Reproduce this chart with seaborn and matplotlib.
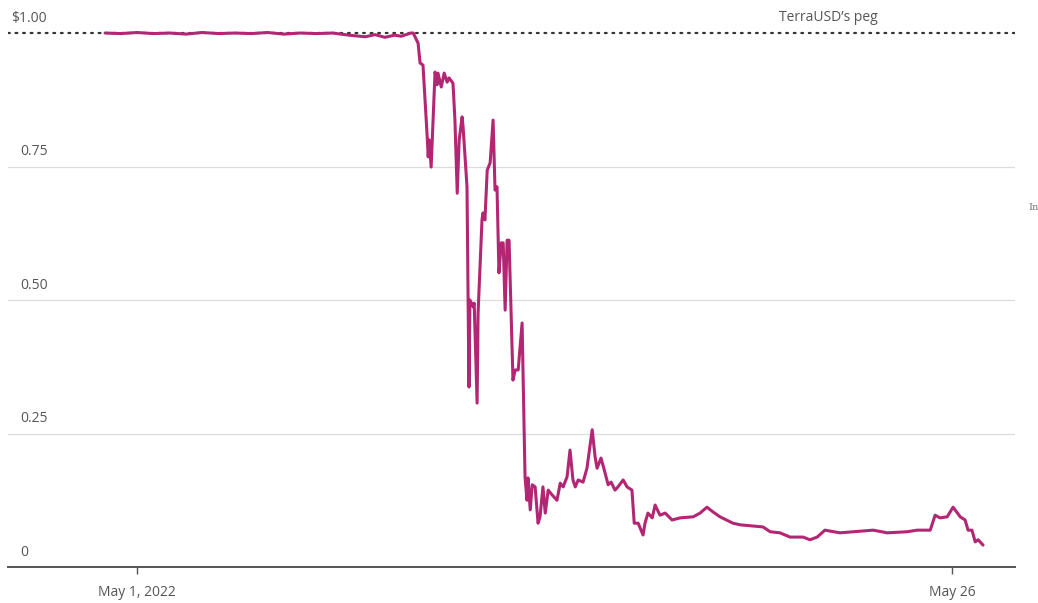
import numpy as np
import pandas as pd
import matplotlib
matplotlib.use("Agg")
import matplotlib.pyplot as plt
import matplotlib.transforms as mtransforms
import seaborn as sns

# ---- data ----
# days since 2022-05-01 00:00
day_offsets = [
    -0.98, -0.5, 0.0, 0.5, 1.0, 1.5, 2.0, 2.5, 3.0, 3.5, 4.0, 4.5, 5.0, 5.5, 6.0, 6.5,
    7.0, 7.3, 7.6, 7.9, 8.1, 8.3, 8.4,
    8.47, 8.62, 8.68, 8.77, 8.90, 8.93, 8.96, 9.02, 9.08, 9.14, 9.20, 9.23, 9.33, 9.42,
    9.51, 9.57, 9.69, 9.75, 9.82, 9.88, 9.97, 10.00, 10.12, 10.18, 10.21, 10.31, 10.34,
    10.43, 10.46, 10.58, 10.61, 10.67, 10.74, 10.83, 10.92, 10.98, 11.04, 11.10, 11.17,
    11.23, 11.29, 11.35, 11.41, 11.53, 11.60, 11.69, 11.81, 11.90, 11.96, 11.99, 12.06,
    12.12, 12.21, 12.30, 12.36, 12.45, 12.52, 12.61, 12.73, 12.88, 12.98, 13.07, 13.19,
    13.28, 13.37, 13.44, 13.53, 13.68, 13.80, 13.96, 14.05, 14.11, 14.23, 14.33, 14.45,
    14.54, 14.66, 14.75, 14.91, 15.03, 15.18, 15.25, 15.37, 15.52, 15.58, 15.67, 15.80,
    15.89, 16.04, 16.20, 16.41, 16.66, 17.06, 17.27, 17.48, 17.67, 17.88, 18.28, 18.50,
    19.20, 19.42, 19.72, 20.03, 20.43, 20.64, 20.86, 21.10, 21.56, 21.96, 22.58, 23.01,
    23.62, 23.93, 24.33, 24.48, 24.63, 24.85, 25.03, 25.25, 25.40, 25.49, 25.61, 25.71,
    25.80, 25.95,
]
prices = [
    1.000, 0.999, 1.001, 0.999, 1.000, 0.998, 1.001, 0.999, 1.000, 0.999, 1.001, 0.998,
    1.000, 0.999, 1.000, 0.996, 0.993, 0.997, 0.992, 0.996, 0.994, 0.998, 1.000,
    1.000, 0.981, 0.944, 0.940, 0.805, 0.768, 0.800, 0.749, 0.837, 0.927, 0.903, 0.925,
    0.899, 0.925, 0.908, 0.916, 0.906, 0.837, 0.700, 0.800, 0.843, 0.824, 0.712, 0.337,
    0.500, 0.487, 0.494, 0.307, 0.476, 0.650, 0.663, 0.650, 0.743, 0.757, 0.837, 0.706,
    0.712, 0.551, 0.607, 0.607, 0.481, 0.612, 0.612, 0.350, 0.369, 0.369, 0.457, 0.169,
    0.125, 0.167, 0.107, 0.154, 0.150, 0.082, 0.094, 0.150, 0.101, 0.144, 0.135, 0.125,
    0.157, 0.150, 0.169, 0.219, 0.163, 0.150, 0.163, 0.159, 0.185, 0.257, 0.206, 0.185,
    0.204, 0.182, 0.154, 0.159, 0.144, 0.150, 0.163, 0.150, 0.144, 0.082, 0.082, 0.060,
    0.082, 0.101, 0.092, 0.116, 0.097, 0.101, 0.088, 0.092, 0.094, 0.101, 0.112, 0.103,
    0.094, 0.082, 0.079, 0.075, 0.066, 0.064, 0.056, 0.056, 0.051, 0.056, 0.069, 0.064,
    0.066, 0.069, 0.064, 0.066, 0.069, 0.069, 0.097, 0.092, 0.094, 0.112, 0.094, 0.088,
    0.069, 0.069, 0.047, 0.051, 0.041,
]
y_ticks = [0, 0.25, 0.50, 0.75, 1.00]
y_labels = ["0", "0.25", "0.50", "0.75", "$1.00"]
x_tick_dates = ["2022-05-01", "2022-05-26"]
x_tick_labels = ["May 1, 2022", "May 26"]
peg_value = 1.0
peg_label = "TerraUSD\u2019s peg"

base = pd.Timestamp("2022-05-01")
df = pd.DataFrame({
    "time": base + pd.to_timedelta(day_offsets, unit="D"),
    "price": prices,
})

sns.set_style("white")
plt.rcParams["font.family"] = ["Open Sans", "DejaVu Sans"]

fig = plt.figure(figsize=(10.38, 6.03), dpi=100)
ax = fig.add_axes([8 / 1038, 36 / 603, 1007 / 1038, 566 / 603])

line_color = "#b22673"
sns.lineplot(data=df, x="time", y="price", ax=ax, color=line_color, linewidth=2.2)

ax.set_xlim(base - pd.Timedelta(days=3.96), base + pd.Timedelta(days=26.93))
ax.set_ylim(0, 1.06)

# gridlines
for v in y_ticks[1:-1]:
    ax.axhline(v, color="#dcdcdc", linewidth=0.9, zorder=0)
ax.axhline(peg_value, color="#333333", linewidth=1.6, linestyle=(0, (0.8, 2.6)),
           dash_capstyle="round", zorder=1)

# y labels above gridlines
trans = mtransforms.blended_transform_factory(ax.transAxes, ax.transData)
for v, lab in zip(y_ticks, y_labels):
    xpos = 0.003 if lab.startswith("$") else 0.012
    ax.text(xpos, v + 0.028, lab, transform=trans, ha="left", va="center",
            fontsize=10, color="#555555")

ax.text(base + pd.Timedelta(days=21.2), 1.03, peg_label, ha="center", va="center",
        fontsize=10, color="#555555")

ax.set_yticks([])
ax.set_xticks(pd.to_datetime(x_tick_dates))
ax.set_xticklabels(x_tick_labels, fontsize=10, color="#555555")
ax.tick_params(axis="x", bottom=True, length=5, width=1, color="#555555", pad=8,
               direction="out")
ax.set_xlabel("")
ax.set_ylabel("")

for s in ["top", "left", "right"]:
    ax.spines[s].set_visible(False)
ax.spines["bottom"].set_color("#555555")
ax.spines["bottom"].set_linewidth(1.4)

fig.text(1034 / 1038, 1 - 207 / 603, "In", family="DejaVu Serif", fontsize=7,
         color="#777777", ha="center", va="center")

fig.savefig("out.png", dpi=100, facecolor="white")
